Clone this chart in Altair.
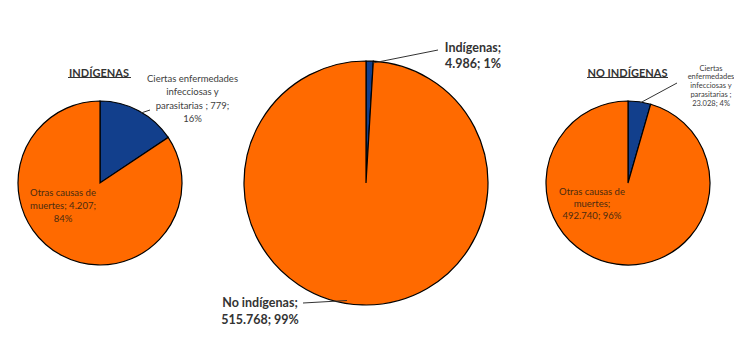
import altair as alt
import pandas as pd

# ---- data ----
ind_categories = ["Ciertas enfermedades infecciosas y parasitarias", "Otras causas de muertes"]
ind_values = [779, 4207]
noind_categories = ["Ciertas enfermedades infecciosas y parasitarias", "Otras causas de muertes"]
noind_values = [23028, 492740]
total_categories = ["Indígenas", "No indígenas"]
total_values = [4986, 515768]

BLUE = "#123F8C"
ORANGE = "#FF6A00"
FONT = "Lato"
GRAY = "#404040"


def fmt(v):
    return f"{v:,}".replace(",", ".")


def pct(v, vals):
    return f"{round(100 * v / sum(vals))}%"


def pie(cats, vals, cx, cy, r):
    df = pd.DataFrame({"cat": cats, "value": vals, "kind": ["a", "b"], "ord": [0, 1]})
    return alt.Chart(df).mark_arc(radius=r, stroke="black", strokeWidth=1.2).encode(
        theta=alt.Theta("value:Q", stack=True),
        color=alt.Color("kind:N", scale=alt.Scale(domain=["a", "b"], range=[BLUE, ORANGE]), legend=None),
        order=alt.Order("ord:Q"),
        x=alt.value(cx),
        y=alt.value(cy),
    )


def label(lines, x, y, size, weight="normal", color=GRAY, lh=None, align="center"):
    kw = dict(align=align, baseline="top", fontSize=size, fontWeight=weight, font=FONT, color=color)
    if lh is not None:
        kw["lineHeight"] = lh
    return alt.Chart(alt.Data(values=[{}])).mark_text(**kw).encode(
        x=alt.value(x), y=alt.value(y), text=alt.value(lines)
    )


def rule(x1, y1, x2, y2, color="#333333", w=1):
    return alt.Chart(alt.Data(values=[{}])).mark_rule(color=color, strokeWidth=w).encode(
        x=alt.value(x1), y=alt.value(y1), x2=alt.value(x2), y2=alt.value(y2)
    )


pies = [
    pie(ind_categories, ind_values, 92, 175, 82),
    pie(total_categories, total_values, 358, 175, 122),
    pie(noind_categories, noind_values, 620, 175, 82),
]

texts = [
    # left pie
    label("INDÍGENAS", 91, 60, 11, "bold", "#333333"),
    rule(60, 69.5, 123, 69.5, "#333333", 1),
    label(["Ciertas enfermedades", "infecciosas y",
           f"parasitarias ; {fmt(ind_values[0])};", pct(ind_values[0], ind_values)],
          184.5, 65.5, 9.5, lh=13.5),
    rule(133, 105, 142, 102),
    label(["Otras causas de", f"muertes; {fmt(ind_values[1])};", pct(ind_values[1], ind_values)],
          55, 179.5, 9.5, color="#4a2a10", lh=13),
    # middle pie
    label([f"{total_categories[0]};", f"{fmt(total_values[0])}; {pct(total_values[0], total_values)}"],
          465, 33.5, 12.5, "bold", "#333333", lh=16.5),
    rule(365, 55, 430, 42),
    label([f"{total_categories[1]};", f"{fmt(total_values[1])}; {pct(total_values[1], total_values)}"],
          252, 289, 12.5, "bold", "#333333", lh=16.5),
    rule(295, 295, 339, 292.5),
    # right pie
    label("NO INDÍGENAS", 619.5, 60, 11, "bold", "#333333"),
    rule(579, 69.5, 660, 69.5, "#333333", 1),
    label(["Ciertas", "enfermedades", "infecciosas y", "parasitarias ;",
           f"{fmt(noind_values[0])}; {pct(noind_values[0], noind_values)}"],
          703, 56.5, 7.5, lh=8.9),
    rule(632, 95, 669, 75),
    label(["Otras causas de", "muertes;",
           f"{fmt(noind_values[1])}; {pct(noind_values[1], noind_values)}"],
          584, 179, 9.5, color="#4a2a10", lh=12.2),
]

chart = alt.layer(*pies, *texts).resolve_scale(theta="independent").properties(
    width=726, height=331, padding=0, autosize="none"
).configure_view(stroke=None)

chart.save("out.html", embed_options={"renderer": "svg", "actions": False})
